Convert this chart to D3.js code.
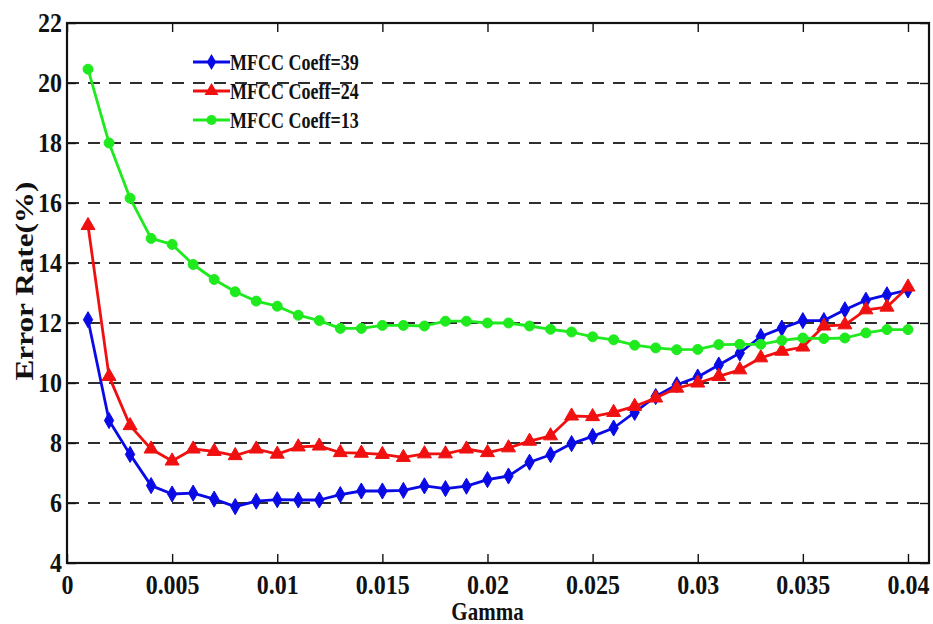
<!DOCTYPE html>
<html>
<head>
<meta charset="utf-8">
<script src="https://cdn.jsdelivr.net/npm/d3@7"></script>
<style>
  html, body { margin: 0; padding: 0; background: #ffffff; }
  svg { display: block; }
</style>
</head>
<body>
<svg id="chart" width="933" height="624"></svg>
<script>
// Gamma values (x axis)
const gamma = [0.001,0.002,0.003,0.004,0.005,0.006,0.007,0.008,0.009,0.010,
               0.011,0.012,0.013,0.014,0.015,0.016,0.017,0.018,0.019,0.020,
               0.021,0.022,0.023,0.024,0.025,0.026,0.027,0.028,0.029,0.030,
               0.031,0.032,0.033,0.034,0.035,0.036,0.037,0.038,0.039,0.040];

// Error rate (%) for each MFCC coefficient count
const coeff39 = [12.11,8.75,7.62,6.58,6.30,6.33,6.13,5.88,6.06,6.11,
                 6.10,6.10,6.28,6.40,6.40,6.42,6.57,6.48,6.56,6.78,
                 6.90,7.36,7.61,7.98,8.22,8.50,9.02,9.55,9.94,10.20,
                 10.60,11.00,11.55,11.83,12.08,12.08,12.44,12.76,12.94,13.10];
const coeff24 = [15.25,10.22,8.58,7.80,7.40,7.80,7.72,7.58,7.80,7.63,
                 7.87,7.90,7.68,7.66,7.62,7.52,7.64,7.64,7.80,7.68,
                 7.84,8.06,8.24,8.90,8.88,9.02,9.22,9.50,9.83,10.00,
                 10.22,10.44,10.84,11.06,11.20,11.90,11.94,12.44,12.53,13.20];
const coeff13 = [20.46,18.00,16.16,14.82,14.62,13.95,13.45,13.04,12.73,12.56,
                 12.26,12.08,11.82,11.82,11.92,11.92,11.90,12.06,12.06,12.00,
                 12.00,11.90,11.79,11.70,11.54,11.44,11.26,11.17,11.11,11.12,
                 11.28,11.29,11.29,11.42,11.50,11.48,11.50,11.67,11.78,11.78];

const seriesNames = ["MFCC Coeff=39", "MFCC Coeff=24", "MFCC Coeff=13"];
const xTicks = [0,0.005,0.01,0.015,0.02,0.025,0.03,0.035,0.04];
const xTickLabels = ["0","0.005","0.01","0.015","0.02","0.025","0.03","0.035","0.04"];
const yTicks = [4,6,8,10,12,14,16,18,20,22];

const series = [
  { name: seriesNames[0], values: coeff39, color: "#0a0ae6", symbol: d3.symbolDiamond, size: 75 },
  { name: seriesNames[1], values: coeff24, color: "#f01010", symbol: d3.symbolTriangle, size: 85 },
  { name: seriesNames[2], values: coeff13, color: "#1eea1e", symbol: d3.symbolCircle, size: 78 }
];

const FONT = '"Liberation Serif", "Times New Roman", "DejaVu Serif", serif';
const STRETCH = 1.12;   // tall, narrow lettering

const svg = d3.select("#chart");
const L = 67, R = 929, T = 23, B = 563;

const x = d3.scaleLinear().domain([0, 0.041]).range([L, R]);
const y = d3.scaleLinear().domain([4, 22]).range([B, T]);

// dashed horizontal grid
svg.append("g")
  .selectAll("line")
  .data(yTicks.filter(v => v > 4 && v < 22))
  .join("line")
  .attr("x1", L).attr("x2", R)
  .attr("y1", d => y(d)).attr("y2", d => y(d))
  .attr("stroke", "#2e2e2e")
  .attr("stroke-width", 1.9)
  .attr("stroke-dasharray", "12,9");

// axes with inward ticks
const tickLen = 9;
const xAxis = svg.append("g").attr("transform", `translate(0,${B})`)
  .call(d3.axisBottom(x).tickValues(xTicks).tickFormat((d, i) => xTickLabels[i])
        .tickSizeInner(-tickLen).tickSizeOuter(0).tickPadding(10.5));
const xAxisTop = svg.append("g").attr("transform", `translate(0,${T})`)
  .call(d3.axisTop(x).tickValues(xTicks).tickFormat("").tickSizeInner(-tickLen).tickSizeOuter(0));
const yAxis = svg.append("g").attr("transform", `translate(${L},0)`)
  .call(d3.axisLeft(y).tickValues(yTicks).tickSizeInner(-tickLen).tickSizeOuter(0).tickPadding(5));
const yAxisRight = svg.append("g").attr("transform", `translate(${R},0)`)
  .call(d3.axisRight(y).tickValues(yTicks).tickFormat("").tickSizeInner(-tickLen).tickSizeOuter(0));

[xAxis, xAxisTop, yAxis, yAxisRight].forEach(g => {
  g.select(".domain").remove();
  g.selectAll(".tick line").attr("stroke", "#111").attr("stroke-width", 1.4);
});
[xAxis, yAxis].forEach(g => {
  g.selectAll(".tick text")
    .style("font-family", FONT).style("font-weight", "bold")
    .attr("font-size", 24).attr("fill", "#111")
    .attr("transform", `scale(1,${STRETCH})`);
});

// plot frame
svg.append("rect")
  .attr("x", L).attr("y", T).attr("width", R - L).attr("height", B - T)
  .attr("fill", "none").attr("stroke", "#111").attr("stroke-width", 2.2);

// series lines and markers
const line = d3.line().x((d, i) => x(gamma[i])).y(d => y(d));
series.forEach(s => {
  const g = svg.append("g");
  g.append("path")
    .attr("d", line(s.values))
    .attr("fill", "none")
    .attr("stroke", s.color)
    .attr("stroke-width", 2.8)
    .attr("stroke-linejoin", "round");
  g.selectAll("path.m")
    .data(s.values)
    .join("path")
    .attr("class", "m")
    .attr("d", d3.symbol().type(s.symbol).size(s.size))
    .attr("transform", (d, i) => `translate(${x(gamma[i])},${y(d)})`)
    .attr("fill", s.color)
    .attr("stroke", s.color)
    .attr("stroke-width", 1);
});

// legend
const leg = svg.append("g").attr("transform", "translate(193,62)");
series.forEach((s, i) => {
  const row = leg.append("g").attr("transform", `translate(0,${i * 29})`);
  row.append("line").attr("x1", 0).attr("x2", 37).attr("y1", 0).attr("y2", 0)
    .attr("stroke", s.color).attr("stroke-width", 2.8);
  row.append("path").attr("d", d3.symbol().type(s.symbol).size(s.size))
    .attr("transform", "translate(18.5,0)").attr("fill", s.color);
  row.append("text")
    .attr("transform", `translate(37,0) scale(1,1.25)`)
    .attr("dy", "0.34em")
    .style("font-family", FONT).style("font-weight", "bold")
    .attr("font-size", 18).attr("fill", "#111").text(s.name);
});

// axis titles
svg.append("text")
  .attr("transform", `translate(${(L + x(0.04)) / 2},620) scale(1,1.2)`)
  .attr("text-anchor", "middle")
  .style("font-family", FONT).style("font-weight", "bold")
  .attr("font-size", 21).attr("fill", "#111").text("Gamma");
svg.append("text")
  .attr("transform", `translate(33,281) rotate(-90) scale(1.2,1)`)
  .attr("text-anchor", "middle")
  .style("font-family", FONT).style("font-weight", "bold")
  .attr("font-size", 26).attr("fill", "#111").text("Error Rate(%)");
</script>
</body>
</html>
